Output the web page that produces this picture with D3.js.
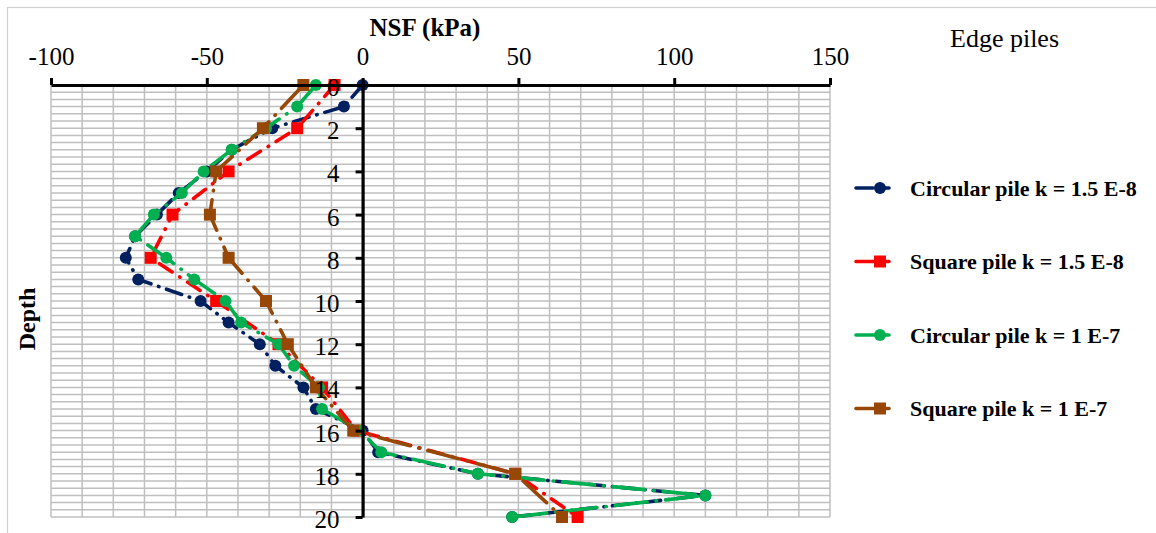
<!DOCTYPE html>
<html>
<head>
<meta charset="utf-8">
<script src="https://cdn.jsdelivr.net/npm/d3@7/dist/d3.min.js"></script>
<style>
  html, body { margin: 0; padding: 0; background: #fff; }
  svg { display: block; }
  text { font-family: "Times New Roman", "Liberation Serif", "DejaVu Serif", serif; fill: #000; }
</style>
</head>
<body>
<svg id="chart" width="1156" height="533"></svg>
<script>
// Depth levels (m) and negative skin friction (kPa) for edge piles
const depthsAll = [0,1,2,3,4,5,6,7,8,9,10,11,12,13,14,15,16,17,18,19,20];
const depthsEven = [0,2,4,6,8,10,12,14,16,18,20];

const circular15E8 = [0,-6,-29,-42,-50,-59,-66,-73,-76,-72,-52,-43,-33,-28,-19,-15,0,5,37,110,48];
const square15E8   = [-9,-21,-43,-61,-68,-47,-27,-13,-2,49,69];
const circular1E7  = [-15,-21,-31,-42,-51,-58,-67,-73,-63,-54,-44,-39,-27,-22,-14,-13,-1,6,37,110,48];
const square1E7    = [-19,-32,-47,-49,-43,-31,-24,-15,-3,49,64];

const seriesNames = [
  "Circular pile k = 1.5 E-8",
  "Square pile k = 1.5 E-8",
  "Circular pile k = 1 E-7",
  "Square pile k = 1 E-7"
];
const xTicks = [-100,-50,0,50,100,150];
const yTicks = [0,2,4,6,8,10,12,14,16,18,20];

const series = [
  { name: seriesNames[0], depths: depthsAll,  values: circular15E8, color: "#002060", marker: "circle", dash: "16,8,0.5,8" },
  { name: seriesNames[1], depths: depthsEven, values: square15E8,   color: "#ff0000", marker: "square", dash: "15,9,0.5,9" },
  { name: seriesNames[2], depths: depthsAll,  values: circular1E7,  color: "#00b050", marker: "circle", dash: "32,9,0.5,9" },
  { name: seriesNames[3], depths: depthsEven, values: square1E7,    color: "#974706", marker: "square", dash: "32,9,0.5,9" }
];

const svg = d3.select("#chart");

// outer chart frame
svg.append("rect")
  .attr("x", 7.5).attr("y", 7.5).attr("width", 1160).attr("height", 540)
  .attr("fill", "#fff").attr("stroke", "#d0d0d0").attr("stroke-width", 1.2);

const x = d3.scaleLinear().domain([-100, 150]).range([51, 830]);
const y = d3.scaleLinear().domain([0, 20]).range([85, 517]);

// gridlines
const grid = svg.append("g").attr("stroke", "#bfbfbf").attr("stroke-width", 1.5);
d3.range(-100, 151, 10).forEach(v => {
  grid.append("line").attr("x1", x(v)).attr("x2", x(v)).attr("y1", y(0)).attr("y2", y(20));
});
d3.range(0, 61).forEach(i => {
  const d = i / 3;
  grid.append("line").attr("x1", x(-100)).attr("x2", x(150)).attr("y1", y(d)).attr("y2", y(d));
});

// series lines and markers
const line = d3.line().x(d => x(d[1])).y(d => y(d[0]));
const plot = svg.append("g");
series.forEach(s => {
  const pts = s.depths.map((d, i) => [d, s.values[i]]);
  plot.append("path")
    .attr("d", line(pts))
    .attr("fill", "none")
    .attr("stroke", s.color)
    .attr("stroke-width", 3.6)
    .attr("stroke-linecap", "round")
    .attr("stroke-dasharray", s.dash);
  const g = plot.append("g").attr("fill", s.color);
  pts.forEach(p => {
    if (s.marker === "circle") {
      g.append("circle").attr("cx", x(p[1])).attr("cy", y(p[0])).attr("r", 6);
    } else {
      g.append("rect").attr("x", x(p[1]) - 6).attr("y", y(p[0]) - 6)
        .attr("width", 12).attr("height", 12);
    }
  });
});

// top axis (NSF)
const xAxis = svg.append("g")
  .attr("transform", `translate(0,${y(0)})`)
  .call(d3.axisTop(x).tickValues(xTicks).tickSize(7).tickSizeOuter(0).tickPadding(13)
        .tickFormat(d => d < 0 ? "-" + Math.abs(d) : d));
xAxis.select(".domain").attr("stroke", "#000").attr("stroke-width", 3.2);
xAxis.selectAll(".tick line").attr("stroke", "#000").attr("stroke-width", 3);
xAxis.selectAll(".tick text")
  .style("font-family", "'Times New Roman','Liberation Serif',serif")
  .style("font-size", "25px").attr("fill", "#000");

// depth axis at NSF = 0
const yAxis = svg.append("g")
  .attr("transform", `translate(${x(0)},0)`)
  .call(d3.axisLeft(y).tickValues(yTicks).tickSize(7).tickSizeOuter(0).tickPadding(16));
yAxis.select(".domain").attr("stroke", "#000").attr("stroke-width", 3.2);
yAxis.selectAll(".tick line").attr("stroke", "#000").attr("stroke-width", 3);
yAxis.selectAll(".tick text")
  .style("font-family", "'Times New Roman','Liberation Serif',serif")
  .style("font-size", "25px").attr("fill", "#000").attr("dy", "0.42em");

// titles
svg.append("text").attr("x", 425).attr("y", 36).attr("text-anchor", "middle")
  .style("font-size", "25px").style("font-weight", "bold").text("NSF (kPa)");
svg.append("text").attr("x", 950).attr("y", 47)
  .style("font-size", "26px").text("Edge piles");
svg.append("text").attr("transform", "translate(35,319) rotate(-90)").attr("text-anchor", "middle")
  .style("font-size", "24px").style("font-weight", "bold").text("Depth");

// legend
const legendY = [188, 261.5, 335, 408.5];
series.forEach((s, i) => {
  const g = svg.append("g").attr("transform", `translate(0,${legendY[i]})`);
  g.append("line").attr("x1", 856).attr("x2", 889).attr("y1", 0).attr("y2", 0)
    .attr("stroke", s.color).attr("stroke-width", 3.6).attr("stroke-linecap", "round")
    .attr("stroke-dasharray", s.dash.startsWith("32") ? null : "17,5");
  if (s.marker === "circle") {
    g.append("circle").attr("cx", 880).attr("cy", 0).attr("r", 6).attr("fill", s.color);
  } else {
    g.append("rect").attr("x", 874).attr("y", -6).attr("width", 12).attr("height", 12).attr("fill", s.color);
  }
  g.append("text").attr("x", 910).attr("y", 7.5)
    .style("font-size", "22px").style("font-weight", "bold").text(s.name);
});
</script>
</body>
</html>
